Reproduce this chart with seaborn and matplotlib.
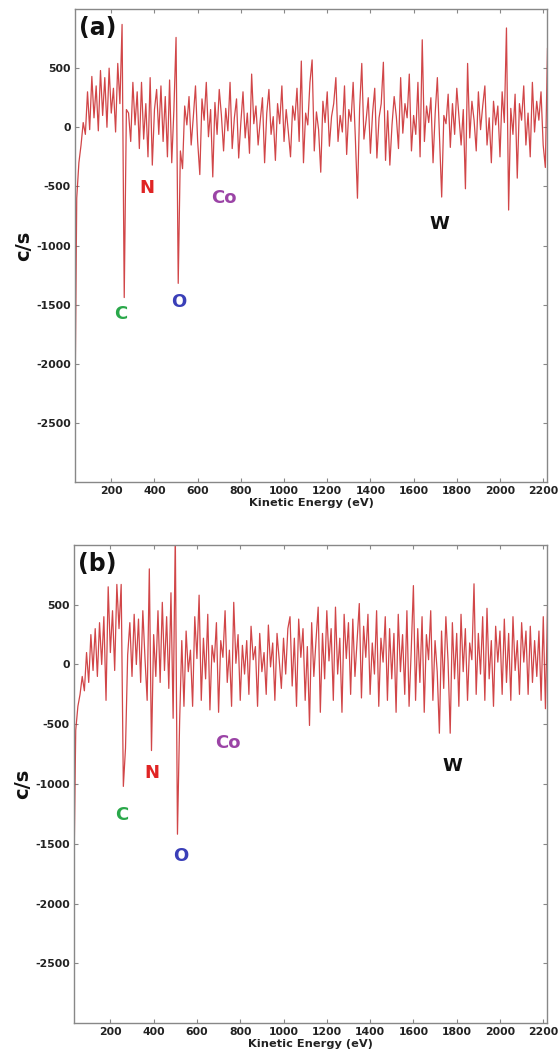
import numpy as np
import pandas as pd
import matplotlib
matplotlib.use("Agg")
import matplotlib.pyplot as plt
import seaborn as sns

# kinetic energy grid (eV), one reading every 10 eV
energy = list(range(30, 2230, 10))

# panel (a) counts per second
counts_a = [
    -2800, -600, -300, -150, 40, -60, 300, -20, 430, 80,
    350, -30, 480, 100, 420, 0, 500, 120, 330, -40,
    540, 200, 870, -1440, 150, 120, -120, 380, 20, 300,
    -180, 380, -100, 200, -250, 420, -320, 150, 320, -60,
    350, -120, 260, -250, 400, -300, 150, 760, -1320, -200,
    -350, 180, 20, 260, -150, 90, 350, -120, -400, 240,
    60, 380, -80, 150, -420, 210, -60, 320, 100, -200,
    160, -30, 380, -180, 80, 240, -260, 40, 300, -90,
    120, -220, 450, 30, 180, -150, 60, 250, -300, 120,
    320, -60, 90, -280, 200, 30, 350, -120, 150, -40,
    -250, 180, 60, 330, -120, 560, -300, 120, 20, 380,
    570, -200, 130, -20, -380, 220, 40, 300, -160, 90,
    200, 420, -120, 100, -40, 350, -230, 150, 50, 380,
    -80, -600, 160, 540, -100, 60, 250, -220, 120, 330,
    -260, 80, 200, 550, -280, 140, -320, 20, 260, 90,
    -180, 420, -50, 200, 80, 450, -200, 100, -60, 380,
    -250, 740, -120, 180, 40, 250, -300, 120, 420, -80,
    -590, 100, 30, 280, -170, 200, -60, 330, 90, -150,
    150, -520, 540, -90, 220, 60, -200, 300, -20, 180,
    350, -150, 80, -300, 220, 20, 180, -250, 300, 40,
    840, -700, 160, -60, 280, -430, 200, 60, 350, -150,
    120, -250, 380, -40, 220, 60, 300, -150, -340, 670,
]

# panel (b) counts per second
counts_b = [
    -2000, -550, -350, -250, -100, -220, 100, -150, 250, -50,
    300, -100, 350, 0, 400, -300, 650, 100, 450, -50,
    670, 300, 670, -1020, -700, 80, 350, -100, 420, 0,
    380, -150, 450, 50, -300, 800, -720, 250, -100, 450,
    -150, 520, -50, 400, -200, 600, -450, 1100, -1420, -480,
    200, -350, 280, -60, 120, -350, 400, 50, 580, -300,
    220, -120, 420, -380, 160, 20, 350, -400, 200, 60,
    450, -150, 120, -350, 520, 10, 250, -300, 160, -80,
    200, -250, 320, 40, 150, -350, 260, -60, 100, -250,
    330, -20, 180, -300, 260, 40, -200, 220, -80, 300,
    400, -180, 220, -350, 380, 60, 300, -300, 150, -510,
    350, -100, 200, 480, -400, 260, -120, 450, 30, 300,
    -300, 480, -80, 220, -400, 420, 50, 350, -250, 380,
    -100, 200, 510, -280, 320, 60, 420, -250, 180, -80,
    450, -350, 220, 20, 400, -300, 300, -120, 260, -400,
    420, -60, 250, -250, 450, -350, 120, 660, -300, 300,
    -150, 400, -400, 250, 40, 450, -300, 200, -60, -575,
    280, -200, 400, 30, -575, 350, -120, 260, -350, 420,
    -60, 300, -300, 180, 40, 675, -250, 260, -80, 400,
    -300, 470, -120, 200, -350, 320, 20, 280, -250, 380,
    -150, 260, -300, 400, -50, 200, -250, 350, 20, 280,
    -250, 320, -150, 200, -100, 280, -300, 400, -370, 500,
]

# element markers: label, energy, y position, colour
labels_a = [("C", 243, -1580, "#2aa84a"), ("N", 365, -510, "#e02424"),
            ("O", 511, -1480, "#3a3fb8"), ("Co", 720, -600, "#9b44a6"),
            ("W", 1720, -815, "#111111")]
labels_b = [("C", 252, -1260, "#2aa84a"), ("N", 391, -905, "#e02424"),
            ("O", 525, -1600, "#3a3fb8"), ("Co", 743, -658, "#9b44a6"),
            ("W", 1780, -850, "#111111")]

sns.set_style("ticks")
plt.rcParams['font.family'] = ['DejaVu Sans']
plt.rcParams['axes.unicode_minus'] = False

fig = plt.figure(figsize=(5.58, 10.64), dpi=100)
ax_a = fig.add_axes([0.1344, 0.547, 0.846, 0.4445])
ax_b = fig.add_axes([0.1326, 0.0385, 0.848, 0.4493])


def draw_panel(ax, counts, labels, tag):
    df = pd.DataFrame({"energy": energy, "cps": counts})
    sns.lineplot(data=df, x="energy", y="cps", ax=ax, color="#c92528",
                 linewidth=0.9, alpha=0.85, estimator=None)
    ax.set_xlim(32, 2218)
    ax.set_ylim(-3000, 1000)
    ax.set_xticks(range(200, 2201, 200))
    ax.set_yticks([500, 0, -500, -1000, -1500, -2000, -2500])
    ax.tick_params(direction="in", length=3, width=0.8, color="#888888",
                   top=True, right=True, labelsize=7.8, pad=3)
    for lab in ax.get_xticklabels() + ax.get_yticklabels():
        lab.set_fontweight("bold")
        lab.set_color("#222222")
    for sp in ax.spines.values():
        sp.set_color("#888888")
        sp.set_linewidth(1.0)
        sp.set_visible(True)
    ax.set_xlabel("Kinetic Energy (eV)", fontsize=8.2, fontweight="bold",
                  color="#222222", labelpad=1)
    ax.set_ylabel("c/s", fontsize=14, fontweight="bold", color="#111111",
                  labelpad=2)
    ax.text(0.008, 0.985, tag, transform=ax.transAxes, fontsize=17,
            fontweight="bold", va="top", ha="left", color="#111111")
    for name, x, y, col in labels:
        ax.text(x, y, name, fontsize=13, fontweight="bold", color=col,
                ha="center", va="center")


draw_panel(ax_a, counts_a, labels_a, "(a)")
draw_panel(ax_b, counts_b, labels_b, "(b)")

fig.savefig("out.png", dpi=100)
